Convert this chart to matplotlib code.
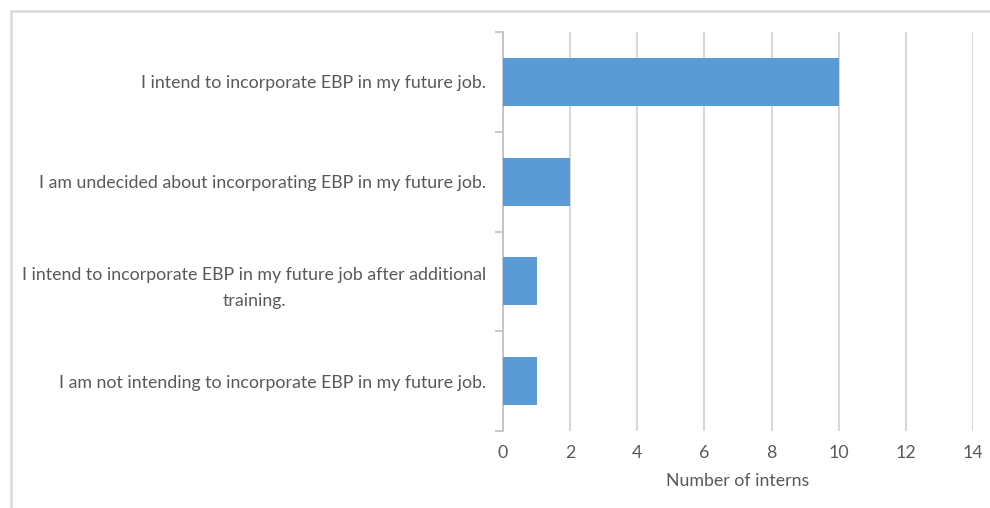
import matplotlib
matplotlib.use("Agg")
import matplotlib.pyplot as plt
from matplotlib.patches import Rectangle

categories = [
    "I intend to incorporate EBP in my future job.",
    "I am undecided about incorporating EBP in my future job.",
    "I intend to incorporate EBP in my future job after additional\ntraining.",
    "I am not intending to incorporate EBP in my future job.",
]
values = [10, 2, 1, 1]
xticks = [0, 2, 4, 6, 8, 10, 12, 14]
xlabel = "Number of interns"

plt.rcParams['font.family'] = ['Lato', 'DejaVu Sans']
text_color = "#595959"
grid_color = "#D9D9D9"
bar_color = "#5B9BD5"
fs = 12.8

fig = plt.figure(figsize=(9.9, 5.08), dpi=100)
ax = fig.add_axes([503/990, 1-431/508, (973-503)/990, (431-32)/508])

n = len(categories)
ypos = list(range(n))
ax.barh(ypos, values, height=0.48, color=bar_color, zorder=3)
ax.set_ylim(n - 0.5, -0.5)
ax.set_xlim(0, 14)
ax.set_xticks(xticks)
ax.set_xticklabels([str(t) for t in xticks])
ax.set_yticks(ypos)
ax.set_yticklabels(categories)
for lab in ax.get_yticklabels():
    lab.set_multialignment('center')
    lab.set_linespacing(1.75)
ax.set_yticks([i - 0.5 for i in range(n + 1)], minor=True)
ax.tick_params(axis='y', which='major', length=0, pad=12, labelsize=fs, labelcolor=text_color)
ax.tick_params(axis='y', which='minor', length=6, width=1.2, color="#BFBFBF")
ax.tick_params(axis='x', length=0, pad=10, labelsize=fs, labelcolor=text_color)
ax.xaxis.grid(True, color=grid_color, linewidth=1.5, zorder=0)
for s in ['top', 'right', 'bottom']:
    ax.spines[s].set_visible(False)
ax.spines['left'].set_color("#BFBFBF")
ax.spines['left'].set_linewidth(1.2)
ax.set_xlabel(xlabel, fontsize=fs, color=text_color, labelpad=9)

# figure border
fig.patches.append(Rectangle((11/990, -0.1), 1.2, 1 - 11/508 + 0.1, transform=fig.transFigure,
                             fill=False, edgecolor=grid_color, linewidth=1.8, zorder=0))

fig.savefig("out.png", dpi=100)
